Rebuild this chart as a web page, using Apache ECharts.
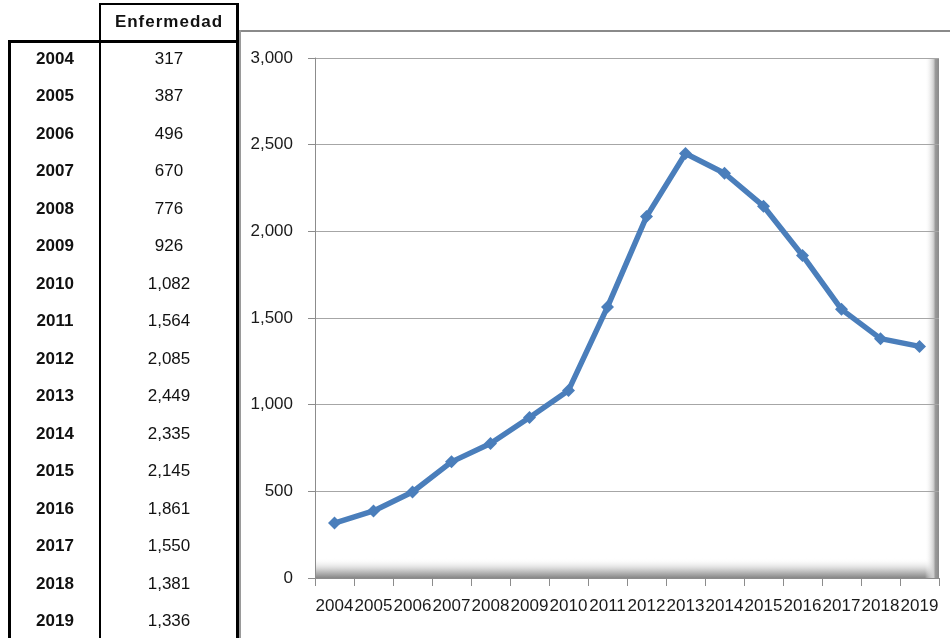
<!DOCTYPE html>
<html>
<head>
<meta charset="utf-8">
<script src="https://cdn.jsdelivr.net/npm/echarts@6/dist/echarts.min.js"></script>
<style>
  html, body { margin: 0; padding: 0; background: #fff; }
  #wrap { position: relative; width: 950px; height: 638px; overflow: hidden; }
  #chart { position: absolute; left: 0; top: 0; width: 950px; height: 638px; }
  .ln { position: absolute; background: #000; }
  .yr { position: absolute; width: 90px; left: 10px; text-align: center; font: bold 17px "Liberation Sans", Arial, sans-serif; color: #111; line-height: 20px; }
  .val { position: absolute; width: 136px; left: 101px; text-align: center; font: 17px "Liberation Sans", Arial, sans-serif; color: #111; line-height: 20px; }
  .hdr { position: absolute; width: 136px; left: 101px; top: 12px; text-align: center; font: bold 17px "Liberation Sans", Arial, sans-serif; letter-spacing: 1px; color: #111; line-height: 20px; }
</style>
</head>
<body>
<div id="wrap">
  <div id="chart"></div>
  <div id="table"></div>
</div>
<script>
// ---- data ----
const years = ['2004','2005','2006','2007','2008','2009','2010','2011','2012','2013','2014','2015','2016','2017','2018','2019'];
const enfermedad = [317, 387, 496, 670, 776, 926, 1082, 1564, 2085, 2449, 2335, 2145, 1861, 1550, 1381, 1336];
const seriesName = 'Enfermedad';
const yTicks = [0, 500, 1000, 1500, 2000, 2500, 3000];

// ---- table (HTML) ----
const fmt = v => v.toLocaleString('en-US');
const tbl = document.getElementById('table');
let html = '';
html += '<div class="ln" style="left:8px;top:40px;width:3px;height:600px"></div>';
html += '<div class="ln" style="left:99px;top:3px;width:2px;height:640px"></div>';
html += '<div class="ln" style="left:236px;top:3px;width:3px;height:640px"></div>';
html += '<div class="ln" style="left:99px;top:3px;width:140px;height:2px"></div>';
html += '<div class="ln" style="left:8px;top:40px;width:231px;height:3px"></div>';
html += '<div class="hdr">' + seriesName + '</div>';
const rowTop = 59, rowStep = 37.47;
years.forEach((y, i) => {
  const cy = rowTop + rowStep * i;
  html += '<div class="yr" style="top:' + (cy - 10) + 'px">' + y + '</div>';
  html += '<div class="val" style="top:' + (cy - 10) + 'px">' + fmt(enfermedad[i]) + '</div>';
});
tbl.innerHTML = html;

// ---- chart ----
const G = { left: 315, right: 11, top: 58, bottom: 60 };
const W = 950, H = 638;
const px = G.left, py = G.top, pw = W - G.left - G.right, ph = H - G.top - G.bottom;
const labelFont = '"Liberation Sans", Arial, sans-serif';

const chart = echarts.init(document.getElementById('chart'));
chart.setOption({
  animation: false,
  backgroundColor: '#fff',
  grid: { left: G.left, right: G.right, top: G.top, bottom: G.bottom, containLabel: false },
  graphic: [
    { type: 'line', shape: { x1: 240, y1: 31, x2: 950, y2: 31 }, style: { stroke: '#8a8a8a', lineWidth: 2 }, z: 0 },
    { type: 'line', shape: { x1: 240, y1: 30, x2: 240, y2: 638 }, style: { stroke: '#9a9a9a', lineWidth: 2 }, z: 0 },
    { type: 'rect', shape: { x: px, y: py + ph - 20, width: pw, height: 20 },
      style: { fill: new echarts.graphic.LinearGradient(0, 0, 0, 1, [
        { offset: 0, color: 'rgba(255,255,255,0)' }, { offset: 0.55, color: '#d4d4d4' }, { offset: 1, color: '#878787' }]) }, z: 0 },
    { type: 'rect', shape: { x: px + pw - 14, y: py, width: 14, height: ph },
      style: { fill: new echarts.graphic.LinearGradient(0, 0, 1, 0, [
        { offset: 0, color: 'rgba(255,255,255,0)' }, { offset: 0.6, color: '#d0d0d0' }, { offset: 0.75, color: '#9a9a9a' }, { offset: 1, color: '#8a8a8a' }]) }, z: 0 }
  ],
  xAxis: {
    type: 'category',
    data: years,
    boundaryGap: true,
    axisLine: { show: true, lineStyle: { color: '#8c8c8c', width: 1 } },
    axisTick: { show: true, length: 8, lineStyle: { color: '#8c8c8c' } },
    axisLabel: { interval: 0, margin: 20, color: '#1a1a1a', fontFamily: labelFont, fontSize: 17 },
    splitLine: { show: false }
  },
  yAxis: {
    type: 'value',
    min: yTicks[0],
    max: yTicks[yTicks.length - 1],
    interval: yTicks[1] - yTicks[0],
    axisLine: { show: true, lineStyle: { color: '#8c8c8c', width: 1 } },
    axisTick: { show: true, length: 7, lineStyle: { color: '#8c8c8c' } },
    axisLabel: { margin: 22, color: '#1a1a1a', fontFamily: labelFont, fontSize: 17,
      formatter: v => v.toLocaleString('en-US') },
    splitLine: { show: true, lineStyle: { color: '#a6a6a6', width: 1 } }
  },
  series: [{
    name: seriesName,
    type: 'line',
    data: enfermedad,
    symbol: 'diamond',
    symbolSize: 13,
    lineStyle: { color: '#4a7ebb', width: 5.5 },
    itemStyle: { color: '#4a7ebb' },
    z: 5
  }]
});
</script>
</body>
</html>
